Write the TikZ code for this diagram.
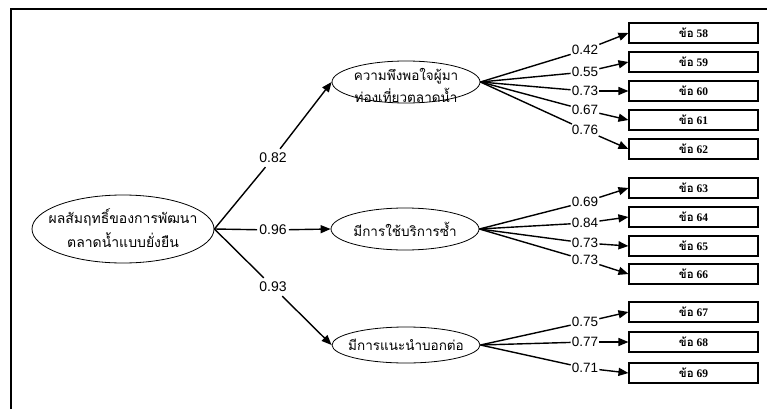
\documentclass[tikz,border=0pt]{standalone}
\usepackage{fontspec}
\setmainfont{Liberation Serif}
\newfontfamily\thaifont[Script=Thai]{Loma}
\newfontfamily\loadfont{Liberation Sans}
\usetikzlibrary{
  arrows.meta,
  shapes.geometric
}

\begin{document}
\begin{tikzpicture}[x=1pt,y=-1pt,
  factor/.style={draw, ellipse, line width=0.8pt, inner sep=0pt, minimum width=148pt},
  ftext/.style={font=\thaifont\fontsize{13.5}{22}\selectfont, align=center, inner sep=0pt},
  itembox/.style={draw, line width=1.1pt, minimum width=129pt, minimum height=20pt,
    inner sep=0pt, font=\bfseries\fontsize{11.5}{12}\selectfont},
  load/.style={font=\loadfont\fontsize{13.5}{14}\selectfont, inner sep=1pt},
  link/.style={line width=1.4pt},
  arr/.style={line width=1.4pt, -{Triangle[length=10pt,width=8pt]}}
]
\useasboundingbox (0,0) rectangle (767,409);
\draw[line width=1.8pt] (11,409) -- (11,9) -- (767,9);

% second-order factor
\node[factor, minimum width=182pt, minimum height=68pt] (sd) at (123,229) {};
\node[ftext, font=\thaifont\fontsize{14}{24}\selectfont] (sdtxt) at (123,228)
  {ผลสัมฤทธิ์ของการพัฒนา\\ตลาดน้ำแบบยั่งยืน};

% first-order factors
\node[factor, minimum height=42pt] (f1) at (406,82) {};
\node[ftext] (f1txt) at (406,85) {ความพึงพอใจผู้มา\\ท่องเที่ยวตลาดน้ำ};
\node[factor, minimum height=42pt] (f2) at (405,229) {};
\node[ftext] (f2txt) at (405,229) {มีการใช้บริการซ้ำ};
\node[factor, minimum height=36pt] (f3) at (406,345) {};
\node[ftext] (f3txt) at (406,345) {มีการแนะนำบอกต่อ};

% second-order loadings
\node[load, inner sep=4pt, font=\loadfont\fontsize{14}{14}\selectfont] (g1) at (273,158) {0.82};
\node[load, inner sep=2pt, font=\loadfont\fontsize{14}{14}\selectfont] (g2) at (273,230) {0.96};
\node[load, inner sep=4pt, font=\loadfont\fontsize{14}{14}\selectfont] (g3) at (273,287) {0.93};
\draw[link] (sd.east) -- (g1);
\draw[arr] (g1) -- (f1.west);
\draw[link] (sd.east) -- (g2);
\draw[arr] (g2) -- (f2.west);
\draw[link] (sd.east) -- (g3);
\draw[arr] (g3) -- (f3.west);

% items
\foreach \n/\ly/\by/\v in {58/50/33/0.42, 59/72/62/0.55, 60/91/91/0.73,
    61/110/120/0.67, 62/130/149/0.76} {
  \node[itembox] (i\n) at (693.5,\by) {{\thaifont ข้อ} \n};
  \node[load] (l\n) at (585,\ly) {\v};
  \draw[link] (f1.east) -- (l\n);
  \draw[arr] (l\n) -- (i\n.west);
}
\foreach \n/\ly/\by/\v in {63/202/188/0.69, 64/223/217/0.84, 65/243/246/0.73,
    66/260/274/0.73} {
  \node[itembox] (i\n) at (693.5,\by) {{\thaifont ข้อ} \n};
  \node[load] (l\n) at (585,\ly) {\v};
  \draw[link] (f2.east) -- (l\n);
  \draw[arr] (l\n) -- (i\n.west);
}
\foreach \n/\ly/\by/\v in {67/322/312/0.75, 68/342/342/0.77, 69/368/373/0.71} {
  \node[itembox] (i\n) at (693.5,\by) {{\thaifont ข้อ} \n};
  \node[load] (l\n) at (585,\ly) {\v};
  \draw[link] (f3.east) -- (l\n);
  \draw[arr] (l\n) -- (i\n.west);
}
\end{tikzpicture}
\end{document}
